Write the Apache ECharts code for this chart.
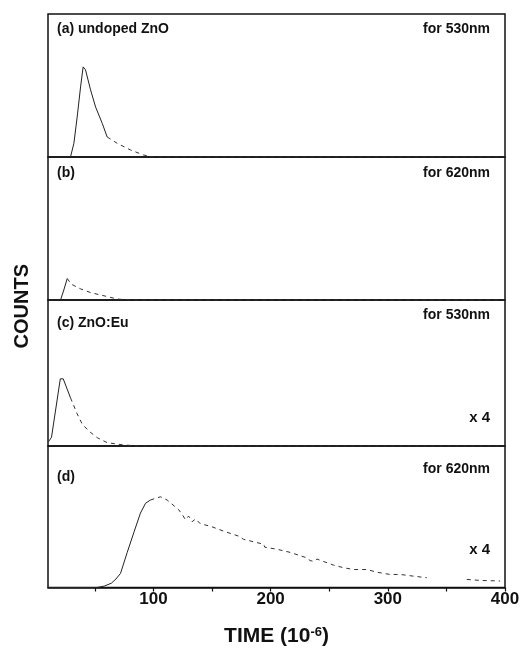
<!DOCTYPE html>
<html>
<head>
<meta charset="utf-8">
<script src="https://cdn.jsdelivr.net/npm/echarts@6/dist/echarts.min.js"></script>
<style>
  html, body { margin: 0; padding: 0; background: #fff; }
  #chart { width: 527px; height: 648px; }
</style>
</head>
<body>
<div id="chart"></div>
<script>
// 横轴刻度
const tickValues = [50, 100, 150, 200, 250, 300, 350, 400];
const labelValues = [100, 200, 300, 400];

// (a) undoped ZnO, 530nm
const timeA = [10, 29.2, 32.1, 34.9, 37.8, 40, 42, 46.3, 50.6, 56.3, 60.5, 69, 80.4, 91.5, 100, 400];
const countA = [0, 0, 9.6, 28, 49, 63, 61, 47, 35, 23.5, 14, 9.6, 4.9, 1.4, 0, 0];
// (b) undoped ZnO, 620nm
const timeB = [10, 20.7, 23.5, 26.4, 30, 38, 47, 56, 69, 80, 400];
const countB = [0, 0, 7, 15, 11, 7.7, 5, 3.3, 0.7, 0, 0];
// (c) ZnO:Eu, 530nm (x4)
const timeC = [10.5, 13, 20.5, 23, 29.2, 34.9, 39.2, 44.8, 52, 60.5, 74.4, 89, 400];
const countC = [3, 6, 46, 46, 33, 22, 15, 10.3, 5.7, 2.3, 0.7, 0, 0];
// (d) ZnO:Eu, 620nm (x4)
const timeD = [10, 52, 58, 64, 68, 71.9, 77.6, 83.2, 88.9, 93.2, 97.4, 101.7, 106, 111.7, 121.6, 125, 127.3, 130, 133, 136, 140,
  148.6, 160, 172.7, 177, 194, 195, 205.5, 216.8, 229.6, 233.8, 236.7, 239.5, 253.7, 262.2, 270.8, 282.2, 290.7, 302, 310.6,
  322, 333.3, 350, 367.4, 378.8, 395.8];
const countD = [0, 0, 1, 3, 6, 10, 24.8, 38.7, 52.6, 59.5, 61.8, 63, 64.1, 61.8, 54.9, 51, 47.9, 50.5, 46.5, 48.5, 45,
  43.3, 39.8, 36.3, 34, 30.6, 28.5, 27, 24.8, 21.3, 19, 18.5, 20.1, 15.8, 14, 12.7, 12.7, 10.8, 9.2, 9.2,
  8, 6.9, null, 5.7, 5, 4.6];

// 实线/虚线分界时间
const splitA = 60.5, splitB = 26.4, splitC = 29.2, splitD = 97.4;

const panels = [
  { t: timeA, c: countA, split: splitA, label: '(a) undoped ZnO', wave: 'for 530nm', factor: '' },
  { t: timeB, c: countB, split: splitB, label: '(b)', wave: 'for 620nm', factor: '' },
  { t: timeC, c: countC, split: splitC, label: '(c) ZnO:Eu', wave: 'for 530nm', factor: 'x 4' },
  { t: timeD, c: countD, split: splitD, label: '(d)', wave: 'for 620nm', factor: 'x 4' }
];

const chart = echarts.init(document.getElementById('chart'));

// 布局
const gridTops = [14, 157, 300, 446];
const gridHeights = [143, 143, 146, 144];
const labelOffsets = [8, 9, 16, 24];
const waveOffsets = [8, 9, 8, 16];
const factorOffsets = [0, 0, 110, 96];
const gridLeft = 48, gridRight = 22;
const font = 'Liberation Sans, Arial, sans-serif';

let grids = [], xAxes = [], yAxes = [], series = [], graphics = [];

panels.forEach((p, i) => {
  const last = i === panels.length - 1;
  grids.push({
    left: gridLeft, right: gridRight, top: gridTops[i], height: gridHeights[i],
    show: true, borderColor: '#111', borderWidth: 1.5, backgroundColor: 'transparent'
  });
  xAxes.push({
    type: 'value', gridIndex: i, min: 10, max: 400,
    axisLine: { show: last, lineStyle: { color: '#111', width: 1.5 } },
    axisTick: { show: last, customValues: tickValues, length: 4, lineStyle: { color: '#111', width: 1.2 } },
    axisLabel: {
      show: last, customValues: labelValues, margin: 3,
      color: '#111', fontFamily: font, fontWeight: 'bold', fontSize: 17
    },
    splitLine: { show: false },
    name: last ? '{a|TIME (10}{b|-6}{a|)}' : '',
    nameLocation: 'middle', nameGap: 38,
    nameTextStyle: {
      rich: {
        a: { fontFamily: font, fontWeight: 'bold', fontSize: 21, color: '#111' },
        b: { fontFamily: font, fontWeight: 'bold', fontSize: 13, color: '#111', verticalAlign: 'top', padding: [0, 0, 9, 0] }
      }
    }
  });
  yAxes.push({
    type: 'value', gridIndex: i, min: 0, max: 100,
    axisLine: { show: false }, axisTick: { show: false }, axisLabel: { show: false }, splitLine: { show: false }
  });

  // 拆成实线和虚线两段
  const solid = [], dashed = [];
  p.t.forEach((t, k) => {
    const v = p.c[k];
    if (t <= p.split) solid.push([t, v]);
    if (t >= p.split) dashed.push([t, v]);
  });
  series.push({
    type: 'line', xAxisIndex: i, yAxisIndex: i, data: solid, showSymbol: false,
    lineStyle: { color: '#222', width: 1 }, silent: true
  });
  series.push({
    type: 'line', xAxisIndex: i, yAxisIndex: i, data: dashed, showSymbol: false, connectNulls: false,
    lineStyle: { color: '#333', width: 1, type: [4, 4] }, silent: true
  });

  const top = gridTops[i];
  graphics.push({
    type: 'text', left: 57, top: top + labelOffsets[i],
    style: { text: p.label, fontFamily: font, fontWeight: 'bold', fontSize: 14, fill: '#111' }
  });
  graphics.push({
    type: 'text', right: 37, top: top + waveOffsets[i],
    style: { text: p.wave, fontFamily: font, fontWeight: 'bold', fontSize: 14, fill: '#111' }
  });
  if (p.factor) {
    graphics.push({
      type: 'text', right: 37, top: top + factorOffsets[i],
      style: { text: p.factor, fontFamily: font, fontWeight: 'bold', fontSize: 15, fill: '#111' }
    });
  }
});

graphics.push({
  type: 'text', left: 12, top: 264, rotation: Math.PI / 2,
  style: { text: 'COUNTS', fontFamily: font, fontWeight: 'bold', fontSize: 20, fill: '#111' }
});

chart.setOption({
  animation: false,
  backgroundColor: '#fff',
  grid: grids,
  xAxis: xAxes,
  yAxis: yAxes,
  series: series,
  graphic: graphics
});
</script>
</body>
</html>
